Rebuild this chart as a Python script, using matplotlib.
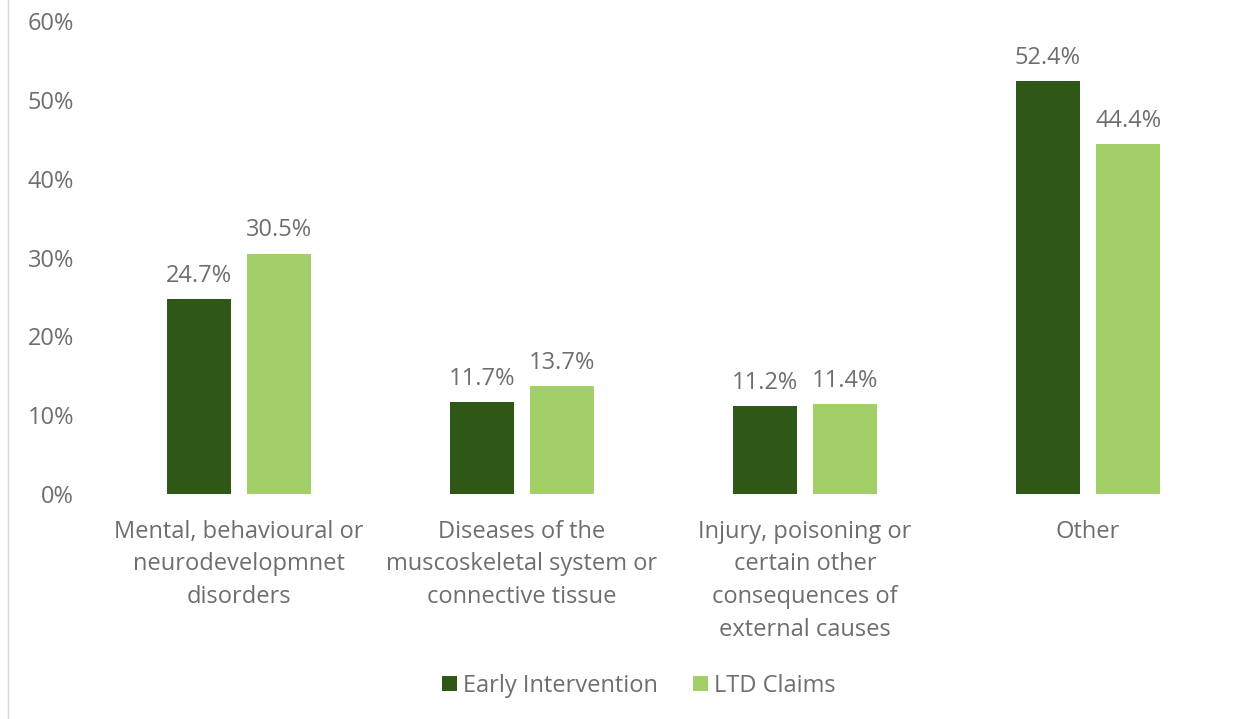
import numpy as np
import matplotlib
matplotlib.use("Agg")
import matplotlib.pyplot as plt
from matplotlib.ticker import FuncFormatter

# data
categories = ["Mental, behavioural or\nneurodevelopmnet\ndisorders",
              "Diseases of the\nmuscoskeletal system or\nconnective tissue",
              "Injury, poisoning or\ncertain other\nconsequences of\nexternal causes",
              "Other"]
early = [24.7, 11.7, 11.2, 52.4]
ltd = [30.5, 13.7, 11.4, 44.4]
series_names = ["Early Intervention", "LTD Claims"]

dark = "#2F5716"
light = "#A2CF68"
grey = "#6E6E6E"
fs = 17

plt.rcParams['font.family'] = ['Open Sans', 'DejaVu Sans']

fig = plt.figure(figsize=(12.55, 7.19), dpi=100)
ax = fig.add_axes([0.0777, 0.3129, 0.902, 0.6579])

x = np.arange(len(categories))
w = 0.226
off = 0.1423
b1 = ax.bar(x - off, early, w, color=dark, label=series_names[0])
b2 = ax.bar(x + off, ltd, w, color=light, label=series_names[1])

for bars, vals in [(b1, early), (b2, ltd)]:
    for rect, v in zip(bars, vals):
        ax.annotate(f"{v:.1f}%", (rect.get_x() + rect.get_width() / 2, v),
                    xytext=(0, 8), textcoords="offset points",
                    ha="center", va="bottom", fontsize=fs, color=grey)

ax.set_xlim(-0.5, 3.5)
ax.set_ylim(0, 60)
ax.set_yticks(np.arange(0, 61, 10))
ax.yaxis.set_major_formatter(FuncFormatter(lambda v, p: f"{v:.0f}%"))
ax.set_xticks(x)
ax.set_xticklabels(categories, fontsize=fs, color=grey, linespacing=1.48)
ax.tick_params(axis="y", labelsize=fs, labelcolor=grey, length=0, pad=17)
ax.tick_params(axis="x", length=0, pad=18.5)
for s in ax.spines.values():
    s.set_visible(False)

fig.legend(loc="center", bbox_to_anchor=(0.509, 0.046), ncol=2, frameon=False,
           fontsize=fs, labelcolor=grey, handlelength=0.64, handleheight=0.64,
           handletextpad=0.25, columnspacing=1.5)

# thin frame line at left edge
fig.add_artist(plt.Line2D([0.0064, 0.0064], [0, 1], color="#D9D9D9", lw=1))

fig.savefig("out.png", dpi=100)
